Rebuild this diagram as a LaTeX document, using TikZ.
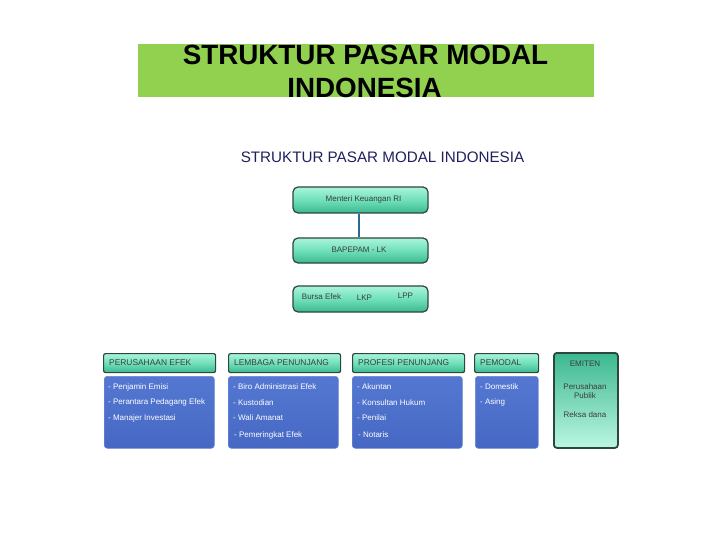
\documentclass[tikz,border=0pt]{standalone}
\usepackage{fontspec}
\setmainfont{Liberation Sans}
\definecolor{titlegreen}{RGB}{146,208,80}
\definecolor{navy}{RGB}{32,32,92}
\definecolor{mintlight}{RGB}{170,244,218}
\definecolor{mintmid}{RGB}{112,224,186}
\definecolor{mintdark}{RGB}{60,184,144}
\definecolor{boxedge}{RGB}{45,70,62}
\definecolor{blueA}{RGB}{84,120,210}
\definecolor{blueB}{RGB}{70,104,196}
\definecolor{txtgray}{RGB}{60,60,60}
\definecolor{connblue}{RGB}{40,105,150}
\tikzset{
  greenbox/.style={draw=boxedge, line width=1.2pt, rounded corners=5pt,
    top color=mintlight, bottom color=mintdark, middle color=mintmid, inner sep=0pt},
  hdrbox/.style={draw=boxedge, line width=1.2pt, rounded corners=2pt,
    top color=mintlight, bottom color=mintdark, middle color=mintmid, inner sep=0pt},
  emitenbox/.style={draw=boxedge, line width=1.8pt, rounded corners=3pt,
    top color=mintdark, bottom color=mintlight!80!white, inner sep=0pt},
  bluebox/.style={draw=blueB!80!white, line width=0.6pt, rounded corners=3pt,
    top color=blueA, bottom color=blueB, inner sep=0pt},
  boxtxt/.style={text=txtgray, font=\fontsize{8}{9.5}\selectfont, inner sep=0pt},
  hdrtxt/.style={text=txtgray, font=\fontsize{8.4}{9.5}\selectfont, inner sep=0pt, anchor=west},
  itemtxt/.style={text=white, font=\fontsize{8}{9.5}\selectfont, inner sep=0pt, anchor=west},
  conn/.style={draw=connblue, line width=1.4pt},
  titletxt/.style={font=\fontsize{27.8}{32}\selectfont\bfseries, anchor=base, inner sep=0pt},
}
\begin{document}
\begin{tikzpicture}[x=1pt,y=-1pt]
\useasboundingbox (0,0) rectangle (720,540);
% title
\fill[titlegreen] (138,44) rectangle (594,97);
\node[titletxt] (t1) at (365.5,64.5) {STRUKTUR PASAR MODAL};
\node[titletxt] (t2) at (364.5,98) {INDONESIA};
% subtitle
\node[text=navy, font=\fontsize{15.2}{18}\selectfont, anchor=base, inner sep=0pt] (sub) at (382.5,162.5) {STRUKTUR PASAR MODAL INDONESIA};
% top hierarchy
\node[greenbox, minimum width=135pt, minimum height=26pt] (menteri) at (360.5,200) {};
\node[boxtxt] (mentxt) at (363.5,199.5) {Menteri Keuangan RI};
\node[greenbox, minimum width=135pt, minimum height=25pt] (bapepam) at (360.5,250.5) {};
\node[boxtxt] (baptxt) at (359,249.5) {BAPEPAM - LK};
\node[greenbox, minimum width=135pt, minimum height=26pt] (bursa) at (360.5,299) {};
\node[boxtxt] (be) at (321.5,296.5) {Bursa Efek};
\node[boxtxt] (lkp) at (364.5,297.5) {LKP};
\node[boxtxt] (lpp) at (405.5,295.5) {LPP};
\draw[conn] ([xshift=-1.5pt]menteri.south) -- ([xshift=-1.5pt]bapepam.north);
% headers
\node[hdrbox, minimum width=112pt, minimum height=19pt, anchor=north west] (h1) at (103,353) {};
\node[hdrtxt] (h1t) at (109,362.5) {PERUSAHAAN EFEK};
\node[hdrbox, minimum width=112pt, minimum height=19pt, anchor=north west] (h2) at (228,353) {};
\node[hdrtxt] (h2t) at (234,362.5) {LEMBAGA PENUNJANG};
\node[hdrbox, minimum width=112pt, minimum height=19pt, anchor=north west] (h3) at (352,353) {};
\node[hdrtxt] (h3t) at (358,362.5) {PROFESI PENUNJANG};
\node[hdrbox, minimum width=64pt, minimum height=19pt, anchor=north west] (h4) at (474,353) {};
\node[hdrtxt] (h4t) at (480,362.5) {PEMODAL};
% blue boxes
\node[bluebox, minimum width=110pt, minimum height=72pt, anchor=north west] (b1) at (104,376) {};
\node[bluebox, minimum width=110pt, minimum height=72pt, anchor=north west] (b2) at (228,376) {};
\node[bluebox, minimum width=110pt, minimum height=72pt, anchor=north west] (b3) at (352,376) {};
\node[bluebox, minimum width=63pt, minimum height=72pt, anchor=north west] (b4) at (475,376) {};
% items
\node[itemtxt] (i11) at (108,387) {- Penjamin Emisi};
\node[itemtxt] (i12) at (108,402.5) {- Perantara Pedagang Efek};
\node[itemtxt] (i13) at (108,418) {- Manajer Investasi};
\node[itemtxt] (i21) at (233,387) {- Biro Administrasi Efek};
\node[itemtxt] (i22) at (233,402.5) {- Kustodian};
\node[itemtxt] (i23) at (233,418) {- Wali Amanat};
\node[itemtxt] (i24) at (234,435) {- Pemeringkat Efek};
\node[itemtxt] (i31) at (357,387) {- Akuntan};
\node[itemtxt] (i32) at (357,402.5) {- Konsultan Hukum};
\node[itemtxt] (i33) at (357,418) {- Penilai};
\node[itemtxt] (i34) at (358,435) {- Notaris};
\node[itemtxt] (i41) at (480,387) {- Domestik};
\node[itemtxt] (i42) at (480,402.5) {- Asing};
% emiten
\node[emitenbox, minimum width=64pt, minimum height=95pt, anchor=north west] (em) at (553,352) {};
\node[boxtxt] (emt) at (585,364) {EMITEN};
\node[boxtxt, align=center, font=\fontsize{8}{9}\selectfont] (pp) at (585,391.5) {Perusahaan\\Publik};
\node[boxtxt] (rd) at (585,415) {Reksa dana};
\end{tikzpicture}
\end{document}
